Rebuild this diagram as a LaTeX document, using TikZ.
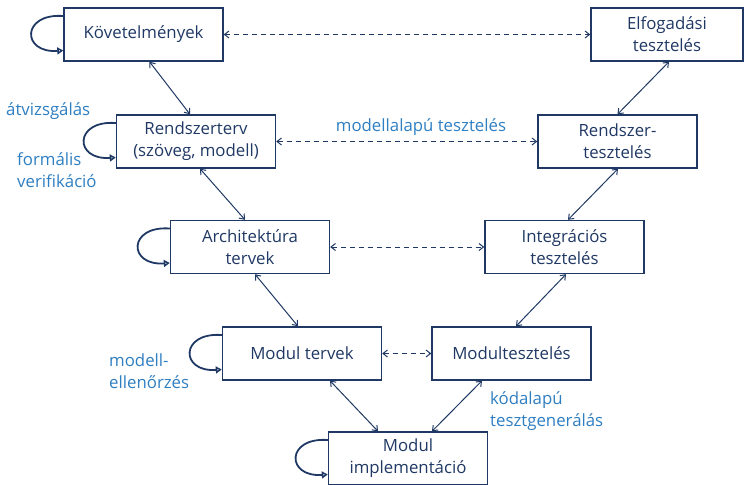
\documentclass[tikz,border=0pt]{standalone}
\usepackage{fontspec}
\setmainfont{Open Sans}
\usetikzlibrary{arrows.meta,calc}
\definecolor{navy}{HTML}{1F3864}
\definecolor{lblue}{HTML}{2E7EC2}

\tikzset{
  box/.style={draw=navy, line width=1.4pt, minimum width=159pt, minimum height=53pt,
    align=center, text=navy, font=\fontsize{16.8}{22}\selectfont, inner sep=2pt},
  link/.style={navy, line width=1pt, {Straight Barb[length=4.5pt,width=7pt]}-{Straight Barb[length=4.5pt,width=7pt]}},
  dlink/.style={link, dash pattern=on 5pt off 4pt},
  loopline/.style={navy, line width=1.8pt, -{Triangle[open,length=6pt,width=7pt]}},
  note/.style={text=lblue, font=\fontsize{16.8}{22}\selectfont, align=left, inner sep=0pt}
}
\newcommand\selfloop[1]{\draw[loopline] ($(#1.west)+(0,-18.5)$) .. controls +(-42,-3) and +(-42,3) .. ($(#1.west)+(0,16)$);}

\begin{document}
\begin{tikzpicture}[x=1pt,y=-1pt]
\useasboundingbox (0,0) rectangle (745,485);

% left branch: design steps
\node[box] (kov)  at (143.5,34.5) {Követelmények};
\node[box] (rt)   at (196,141.5)  {Rendszerterv\\(szöveg, modell)};
\node[box] (arch) at (250,247)    {Architektúra\\tervek};
\node[box] (mt)   at (302,353.5)  {Modul tervek};
\node[box] (impl) at (408,458.5)  {Modul\\implementáció};

% right branch: testing steps
\node[box, minimum width=152pt] (elf)   at (667,34.5)   {Elfogadási\\tesztelés};
\node[box] (rst)   at (617.5,141.5) {Rendszer-\\tesztelés};
\node[box] (integ) at (564.5,247)   {Integrációs\\tesztelés};
\node[box] (mtest) at (511.5,353.5) {Modultesztelés};

% refinement links
\draw[link] ([xshift=6pt]kov.south) -- ([xshift=-6pt]rt.north);
\draw[link] ([xshift=4pt]rt.south) -- ([xshift=-5pt]arch.north);
\draw[link] ([xshift=5pt]arch.south) -- ([xshift=-4pt]mt.north);
\draw[link] ([xshift=28pt]mt.south) -- ([xshift=-30pt]impl.north);
\draw[link] ([xshift=-29.5pt]mtest.south) -- ([xshift=24pt]impl.north);
\draw[link] ([xshift=4.5pt]mtest.north) -- ([xshift=1.5pt]integ.south);
\draw[link] ([xshift=3.5pt]integ.north) -- ([xshift=0.5pt]rst.south);
\draw[link] (rst.north) -- ([xshift=2pt]elf.south);

% verification links between levels
\draw[dlink] (kov.east) -- (elf.west);
\draw[dlink] (rt.east) -- (rst.west);
\draw[dlink] (arch.east) -- (integ.west);
\draw[dlink] (mt.east) -- (mtest.west);

% self-checks
\selfloop{kov}
\selfloop{rt}
\selfloop{arch}
\selfloop{mt}
\selfloop{impl}

% annotations
\node[note, anchor=base west] (n1) at (6,115) {átvizsgálás};
\node[note, anchor=base west] (n2) at (17,187) {formális\\verifikáció};
\node[note, anchor=base] (n3) at (421,131) {modellalapú tesztelés};
\node[note, anchor=base west] (n4) at (109,388) {modell-\\ellenőrzés};
\node[note, anchor=base west] (n5) at (490,426) {kódalapú\\tesztgenerálás};
\end{tikzpicture}
\end{document}
